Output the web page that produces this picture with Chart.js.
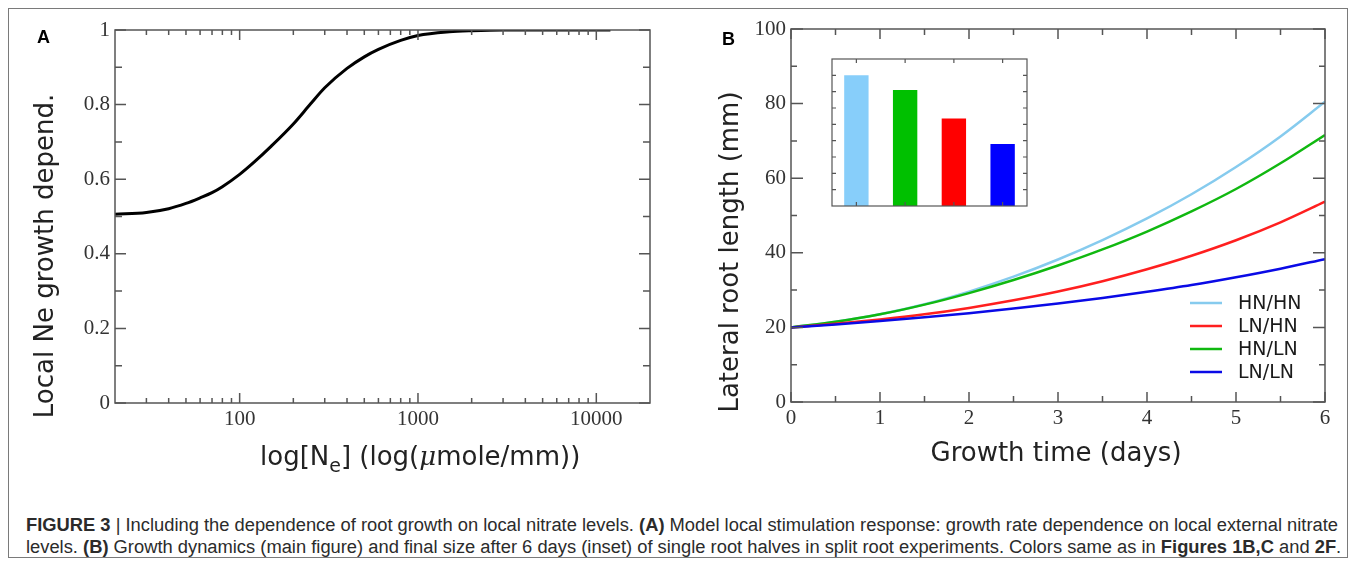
<!DOCTYPE html>
<html>
<head>
<meta charset="utf-8">
<script src="https://cdn.jsdelivr.net/npm/chart.js@4.4.1/dist/chart.umd.min.js"></script>
<style>
  html, body { margin: 0; padding: 0; background: #fff; }
  body { width: 1355px; height: 565px; position: relative; overflow: hidden; }
  .frame { position: absolute; left: 8px; top: 8px; width: 1338px; height: 548px; border: 1px solid #7a7a7a; }
  .panel { position: absolute; font: bold 18px "Liberation Sans", Arial, sans-serif; line-height: 18px; color: #000; }
  canvas { position: absolute; }
  #chartA { left: 0; top: 0; }
  #chartB { left: 680px; top: 0; }
  #inset { left: 822px; top: 49px; }
  .caption { position: absolute; left: 26px; top: 514px; font-family: "Liberation Sans", Arial, sans-serif; font-size: 18px; line-height: 22px; color: #2b2b2b; white-space: nowrap; transform-origin: 0 0; }
  .caption span { display: inline-block; }
</style>
</head>
<body>
<div class="frame"></div>
<canvas id="chartA" width="680" height="480"></canvas>
<canvas id="chartB" width="675" height="480"></canvas>
<canvas id="inset" width="215" height="167"></canvas>
<div class="panel" style="left:37px; top:28px;">A</div>
<div class="panel" style="left:722px; top:30px;">B</div>
<div class="caption" id="caption">
  <span id="capLine1"><b>FIGURE 3</b> | Including the dependence of root growth on local nitrate levels. <b>(A)</b> Model local stimulation response: growth rate dependence on local external nitrate</span><br>
  <span>levels. <b>(B)</b> Growth dynamics (main figure) and final size after 6 days (inset) of single root halves in split root experiments. Colors same as in <b>Figures 1B,C</b> and <b>2F</b>.</span>
</div>
<script>
// panel A: local nitrate response
const nitrateLevels = [20, 30, 40, 50, 60, 70, 80, 100, 120, 150, 200, 250, 300, 400, 500, 600, 800, 1000, 1500, 2000, 3000, 5000, 8000, 12000];
const growthDependence = [0.506, 0.511, 0.521, 0.535, 0.55, 0.564, 0.58, 0.613, 0.645, 0.688, 0.748, 0.802, 0.845, 0.897, 0.928, 0.948, 0.972, 0.985, 0.995, 0.998, 1, 1, 1, 1];
const nitrateMajorTicks = [100, 1000, 10000];
const nitrateMinorTicks = [30, 40, 50, 60, 70, 80, 90, 200, 300, 400, 500, 600, 700, 800, 900, 2000, 3000, 4000, 5000, 6000, 7000, 8000, 9000];
const dependMajorTicks = [0, 0.2, 0.4, 0.6, 0.8, 1];
const dependMinorTicks = [0.1, 0.3, 0.5, 0.7, 0.9];

// panel B: lateral root growth
const days = [0, 0.5, 1, 1.5, 2, 2.5, 3, 3.5, 4, 4.5, 5, 5.5, 6];
const hnhn = [20, 21.5, 23.5, 26.2, 29.6, 33.6, 38.2, 43.4, 49.2, 55.7, 63.0, 71.2, 80.5];
const lnhn = [20, 20.96, 22.13, 23.52, 25.23, 27.26, 29.61, 32.38, 35.58, 39.2, 43.36, 48.16, 53.7];
const hnln = [20, 21.5, 23.5, 26.1, 29.2, 32.7, 36.6, 40.9, 45.7, 51.1, 57.1, 64.0, 71.6];
const lnln = [20, 20.8, 21.7, 22.7, 23.8, 25.05, 26.4, 27.9, 29.55, 31.35, 33.45, 35.75, 38.3];
const seriesLabels = ['HN/HN', 'LN/HN', 'HN/LN', 'LN/LN'];
const seriesColors = ['#86cbee', '#ff1f1f', '#10b810', '#0a0ae6'];
const dayMajorTicks = [0, 1, 2, 3, 4, 5, 6];
const dayMinorTicks = [0.5, 1.5, 2.5, 3.5, 4.5, 5.5];
const lengthMajorTicks = [0, 20, 40, 60, 80, 100];
const lengthMinorTicks = [10, 30, 50, 70, 90];

// inset: final size after 6 days
const insetLabels = ['HN/HN', 'HN/LN', 'LN/HN', 'LN/LN'];
const insetValues = [80, 71, 53.5, 38];
const insetColors = ['#87cefa', '#00c000', '#ff0000', '#0000ff'];
const insetTicks = [10, 20, 30, 40, 50, 60, 70, 80];

const axisColor = '#555';
const tickFont = { family: '"Liberation Serif", "Times New Roman", serif', size: 21 };

// box round the plot area with ticks pointing inwards on all four sides
function boxTicks(xSpec, ySpec, width) {
  return {
    id: 'boxTicks',
    afterDraw(chart) {
      const { ctx, chartArea: a, scales } = chart;
      ctx.save();
      ctx.strokeStyle = axisColor;
      ctx.lineWidth = width;
      ctx.beginPath();
      xSpec.forEach(([vals, len]) => vals.forEach(v => {
        const px = scales.x.getPixelForValue(v);
        ctx.moveTo(px, a.bottom); ctx.lineTo(px, a.bottom - len);
        ctx.moveTo(px, a.top); ctx.lineTo(px, a.top + len);
      }));
      ySpec.forEach(([vals, len]) => vals.forEach(v => {
        const py = scales.y.getPixelForValue(v);
        ctx.moveTo(a.left, py); ctx.lineTo(a.left + len, py);
        ctx.moveTo(a.right, py); ctx.lineTo(a.right - len, py);
      }));
      ctx.stroke();
      ctx.strokeRect(a.left, a.top, a.right - a.left, a.bottom - a.top);
      ctx.restore();
    }
  };
}

function fixedAxis(size, horizontal) {
  return s => {
    if (horizontal) s.height = size; else s.width = size;
    s.paddingLeft = 0; s.paddingRight = 0; s.paddingTop = 0; s.paddingBottom = 0;
  };
}

const titlesA = {
  id: 'titlesA',
  afterDraw(chart) {
    const ctx = chart.ctx;
    ctx.save();
    ctx.fillStyle = '#222';
    ctx.textBaseline = 'alphabetic';
    ctx.font = '26px "DejaVu Sans"';
    ctx.save();
    ctx.translate(53, 256);
    ctx.rotate(-Math.PI / 2);
    ctx.textAlign = 'center';
    ctx.fillText('Local Ne growth depend.', 0, 0);
    ctx.restore();
    const parts = [
      ['log[N', '26px "DejaVu Sans"', 0],
      ['e', '19px "DejaVu Sans"', 7],
      ['] (log(', '26px "DejaVu Sans"', 0],
      ['\u03bc', 'italic 26px "DejaVu Serif"', 0],
      ['mole/mm))', '26px "DejaVu Sans"', 0]
    ];
    let x = 260;
    ctx.textAlign = 'left';
    parts.forEach(([t, f, dy]) => {
      ctx.font = f;
      ctx.fillText(t, x, 465 + dy);
      x += ctx.measureText(t).width;
    });
    ctx.restore();
  }
};

const titlesB = {
  id: 'titlesB',
  afterDraw(chart) {
    const ctx = chart.ctx;
    ctx.save();
    ctx.fillStyle = '#222';
    ctx.font = '26px "DejaVu Sans"';
    ctx.textAlign = 'center';
    ctx.textBaseline = 'alphabetic';
    ctx.fillText('Growth time (days)', 376, 461);
    ctx.translate(58, 252);
    ctx.rotate(-Math.PI / 2);
    ctx.fillText('Lateral root length (mm)', 0, 0);
    ctx.restore();
  }
};

const legendB = {
  id: 'legendB',
  afterDraw(chart) {
    const ctx = chart.ctx;
    ctx.save();
    ctx.font = '19px "DejaVu Sans"';
    ctx.textBaseline = 'middle';
    ctx.textAlign = 'left';
    chart.data.datasets.forEach((ds, i) => {
      const y = 303 + i * 23;
      ctx.strokeStyle = ds.borderColor;
      ctx.lineWidth = 2.5;
      ctx.beginPath();
      ctx.moveTo(510, y); ctx.lineTo(542, y);
      ctx.stroke();
      ctx.fillStyle = '#1a1a1a';
      ctx.fillText(ds.label, 558, y + 1);
    });
    ctx.restore();
  }
};

const baseOptions = {
  responsive: false,
  animation: false,
  events: [],
  plugins: { legend: { display: false }, tooltip: { enabled: false } }
};

new Chart(document.getElementById('chartA'), {
  type: 'line',
  data: {
    datasets: [{
      data: nitrateLevels.map((x, i) => ({ x: x, y: growthDependence[i] })),
      borderColor: '#000',
      borderWidth: 3,
      pointRadius: 0,
      cubicInterpolationMode: 'monotone',
      fill: false
    }]
  },
  options: {
    ...baseOptions,
    layout: { padding: { top: 30, right: 30, left: 0, bottom: 0 } },
    scales: {
      x: {
        type: 'logarithmic', min: 20, max: 20000,
        grid: { display: false, drawTicks: false },
        border: { display: false },
        afterBuildTicks: s => { s.ticks = nitrateMajorTicks.map(v => ({ value: v })); },
        afterFit: fixedAxis(77, true),
        ticks: { font: tickFont, color: '#333', padding: 4, maxRotation: 0, autoSkip: false, callback: v => String(v) }
      },
      y: {
        min: 0, max: 1,
        grid: { display: false, drawTicks: false },
        border: { display: false },
        afterBuildTicks: s => { s.ticks = dependMajorTicks.map(v => ({ value: v })); },
        afterFit: fixedAxis(115, false),
        ticks: { font: tickFont, color: '#333', padding: 5, autoSkip: false, callback: v => String(v) }
      }
    }
  },
  plugins: [boxTicks([[nitrateMajorTicks, 10], [nitrateMinorTicks, 5]], [[dependMajorTicks, 11], [dependMinorTicks, 7]], 1.5), titlesA]
});

const growthSeries = [hnhn, lnhn, hnln, lnln];
const drawOrder = [4, 2, 3, 1];

new Chart(document.getElementById('chartB'), {
  type: 'line',
  data: {
    datasets: growthSeries.map((vals, i) => ({
      label: seriesLabels[i],
      data: days.map((d, j) => ({ x: d, y: vals[j] })),
      borderColor: seriesColors[i],
      borderWidth: 2.5,
      pointRadius: 0,
      cubicInterpolationMode: 'monotone',
      fill: false,
      order: drawOrder[i]
    }))
  },
  options: {
    ...baseOptions,
    layout: { padding: { top: 29, right: 30, left: 0, bottom: 0 } },
    scales: {
      x: {
        type: 'linear', min: 0, max: 6,
        grid: { display: false, drawTicks: false },
        border: { display: false },
        afterBuildTicks: s => { s.ticks = dayMajorTicks.map(v => ({ value: v })); },
        afterFit: fixedAxis(78, true),
        ticks: { font: tickFont, color: '#333', padding: 4, maxRotation: 0, autoSkip: false, callback: v => String(v) }
      },
      y: {
        min: 0, max: 100,
        grid: { display: false, drawTicks: false },
        border: { display: false },
        afterBuildTicks: s => { s.ticks = lengthMajorTicks.map(v => ({ value: v })); },
        afterFit: fixedAxis(111, false),
        ticks: { font: tickFont, color: '#333', padding: 5, autoSkip: false, callback: v => String(v) }
      }
    }
  },
  plugins: [boxTicks([[dayMajorTicks, 10], [dayMinorTicks, 6]], [[lengthMajorTicks, 12], [lengthMinorTicks, 6]], 1.5), titlesB, legendB]
});

new Chart(document.getElementById('inset'), {
  type: 'bar',
  data: {
    labels: insetLabels,
    datasets: [{
      data: insetValues,
      backgroundColor: insetColors,
      borderWidth: 0,
      barPercentage: 0.5,
      categoryPercentage: 1
    }]
  },
  options: {
    ...baseOptions,
    layout: { padding: 10 },
    scales: {
      x: {
        grid: { display: false, drawTicks: false },
        border: { display: false },
        ticks: { display: false },
        afterFit: fixedAxis(0, true)
      },
      y: {
        min: 0, max: 90,
        grid: { display: false, drawTicks: false },
        border: { display: false },
        ticks: { display: false },
        afterFit: fixedAxis(0, false)
      }
    }
  },
  plugins: [boxTicks([[[0, 1, 2, 3], 4]], [[insetTicks, 4]], 1.2)]
});

// condensed caption: squeeze the text so the first line runs to the right margin
const caption = document.getElementById('caption');
const squeeze = 1312 / document.getElementById('capLine1').getBoundingClientRect().width;
caption.style.transform = 'scaleX(' + squeeze.toFixed(4) + ')';
</script>
</body>
</html>
